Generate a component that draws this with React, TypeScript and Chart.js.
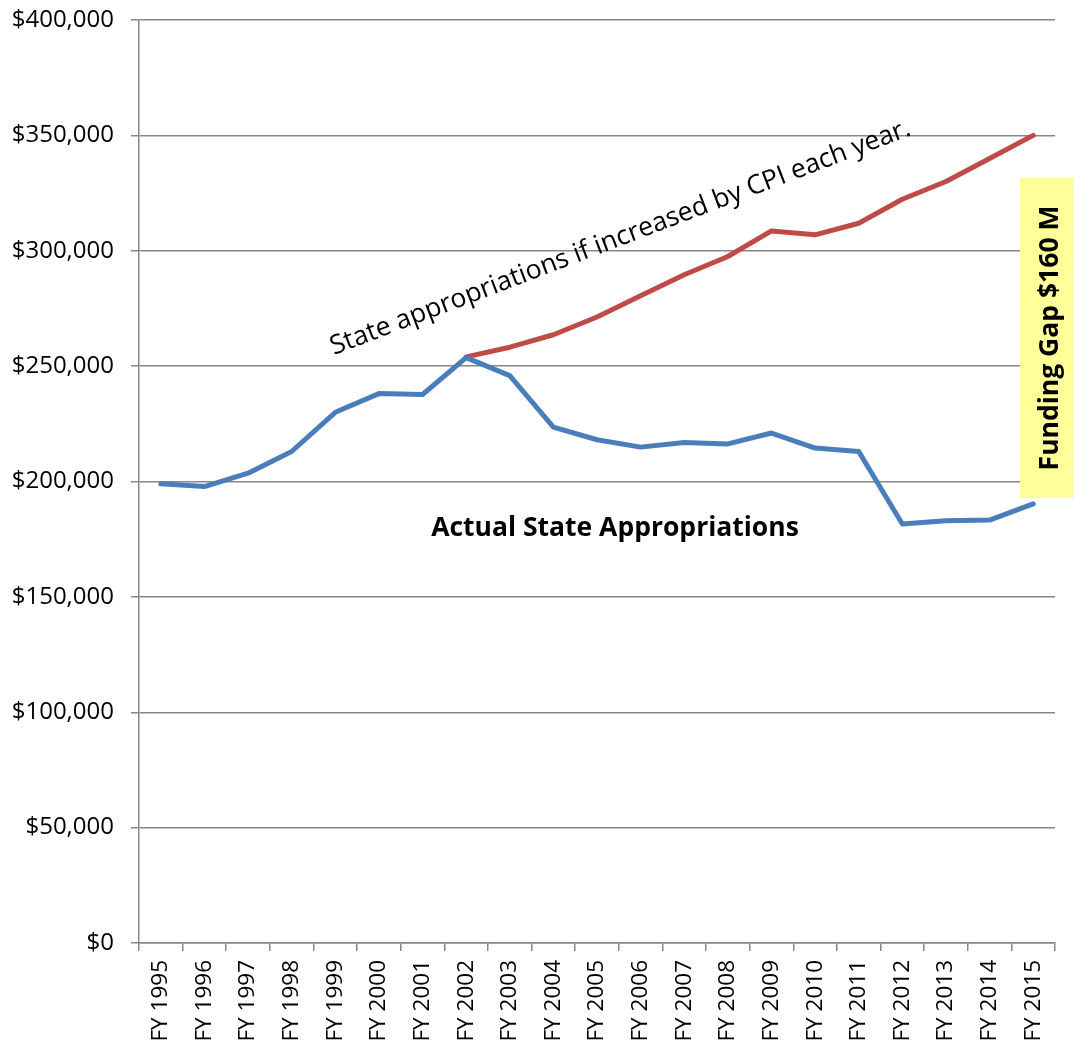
import React, { useEffect, useRef } from "react";
import { Chart, registerables } from "chart.js";

Chart.register(...registerables);

const years: string[] = [
  "FY 1995", "FY 1996", "FY 1997", "FY 1998", "FY 1999", "FY 2000", "FY 2001",
  "FY 2002", "FY 2003", "FY 2004", "FY 2005", "FY 2006", "FY 2007", "FY 2008",
  "FY 2009", "FY 2010", "FY 2011", "FY 2012", "FY 2013", "FY 2014", "FY 2015",
];

const actualAppropriations: number[] = [
  199000, 197800, 203600, 213000, 230000, 238100, 237700,
  253700, 245900, 223600, 218100, 214900, 216900, 216300,
  221000, 214500, 213000, 181600, 183000, 183300, 190300,
];

const cpiAppropriations: (number | null)[] = [
  null, null, null, null, null, null, null,
  254000, 258200, 263600, 271300, 280500, 289600, 297500,
  308600, 306900, 311900, 322300, 330000, 340000, 350000,
];

const yTickValues: number[] = [0, 50000, 100000, 150000, 200000, 250000, 300000, 350000, 400000];

const cpiLabel = "State appropriations if increased by CPI each year.";
const actualLabel = "Actual State Appropriations";
const gapLabel = "Funding Gap $160 M";

const FONT = "'Open Sans', 'Liberation Sans', sans-serif";
const GRID = "#878787";

const annotationPlugin = {
  id: "annotations",
  afterDraw(chart: any) {
    const ctx = chart.ctx as CanvasRenderingContext2D;
    ctx.save();
    ctx.fillStyle = "#000";
    ctx.font = `26.5px ${FONT}`;
    ctx.textAlign = "left";
    ctx.textBaseline = "alphabetic";
    ctx.translate(334, 355);
    ctx.rotate(-0.364);
    ctx.fillText(cpiLabel, 0, 0);
    ctx.restore();

    ctx.save();
    ctx.fillStyle = "#000";
    ctx.font = `bold 26.5px ${FONT}`;
    ctx.textAlign = "center";
    ctx.textBaseline = "middle";
    ctx.fillText(actualLabel, 615, 528);
    ctx.restore();

    ctx.save();
    ctx.fillStyle = "#ffff99";
    ctx.fillRect(1020, 178, 54, 320);
    ctx.fillStyle = "#000";
    ctx.font = `bold 26.5px ${FONT}`;
    ctx.textAlign = "center";
    ctx.textBaseline = "middle";
    ctx.translate(1050, 338);
    ctx.rotate(-Math.PI / 2);
    ctx.fillText(gapLabel, 0, 0);
    ctx.restore();
  },
};

export default function App() {
  const ref = useRef<HTMLCanvasElement | null>(null);

  useEffect(() => {
    if (!ref.current) return;
    const chart = new Chart(ref.current, {
      type: "line",
      data: {
        labels: years,
        datasets: [
          {
            label: "Actual State Appropriations",
            data: actualAppropriations,
            borderColor: "#4a7ebb",
            borderWidth: 5,
            pointRadius: 0,
            tension: 0,
            fill: false,
            borderJoinStyle: "round",
            borderCapStyle: "round",
          },
          {
            label: "CPI",
            data: cpiAppropriations,
            borderColor: "#be4b48",
            borderWidth: 5,
            pointRadius: 0,
            tension: 0,
            fill: false,
            borderJoinStyle: "round",
            borderCapStyle: "round",
          },
        ],
      },
      options: {
        responsive: false,
        animation: false,
        events: [],
        layout: { padding: { top: 20, right: 19, left: 0, bottom: 0 } },
        plugins: {
          legend: { display: false },
          tooltip: { enabled: false },
        },
        scales: {
          x: {
            offset: true,
            grid: {
              offset: true,
              drawOnChartArea: false,
              drawTicks: true,
              tickLength: 8,
              color: GRID,
              lineWidth: 1.5,
            },
            border: { color: GRID, width: 1.5 },
            ticks: {
              minRotation: 90,
              maxRotation: 90,
              autoSkip: false,
              padding: 9,
              color: "#000",
              font: { family: FONT, size: 22.5 },
            },
            afterFit: (scale: any) => {
              scale.height = 104;
              scale.paddingLeft = 0;
              scale.paddingRight = 0;
              scale.paddingTop = 0;
              scale.paddingBottom = 0;
            },
          },
          y: {
            min: 0,
            max: 400000,
            afterBuildTicks: (scale: any) => {
              scale.ticks = yTickValues.map((v) => ({ value: v }));
            },
            grid: {
              color: GRID,
              lineWidth: 1.5,
              tickLength: 8,
            },
            border: { color: GRID, width: 1.5 },
            ticks: {
              padding: 17,
              color: "#000",
              font: { family: FONT, size: 24 },
              callback: (v: any) => "$" + Number(v).toLocaleString("en-US"),
            },
            afterFit: (scale: any) => {
              scale.width = 139;
              scale.paddingTop = 0;
              scale.paddingBottom = 0;
              scale.paddingLeft = 0;
              scale.paddingRight = 0;
            },
          },
        },
      },
      plugins: [annotationPlugin],
    });
    return () => chart.destroy();
  }, []);

  return (
    <div style={{ position: "absolute", left: 0, top: 0, width: 1074, height: 1047, background: "#fff" }}>
      <canvas ref={ref} width={1074} height={1047} />
    </div>
  );
}
